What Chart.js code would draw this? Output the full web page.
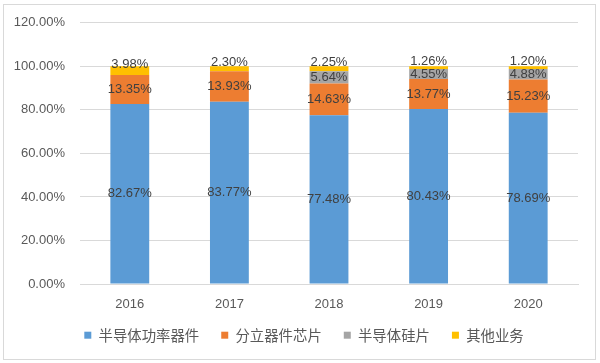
<!DOCTYPE html>
<html>
<head>
<meta charset="utf-8">
<script src="https://cdn.jsdelivr.net/npm/chart.js@4"></script>
<style>
  html, body { margin: 0; padding: 0; background: #fff; }
  #wrap { width: 600px; height: 363px; position: relative; }
</style>
</head>
<body>
<div id="wrap"><canvas id="chart" width="600" height="363"></canvas></div>
<script>
const years = ["2016", "2017", "2018", "2019", "2020"];
const seriesNames = ["半导体功率器件", "分立器件芯片", "半导体硅片", "其他业务"];
const powerDevices = [82.67, 83.77, 77.48, 80.43, 78.69];
const discreteChips = [13.35, 13.93, 14.63, 13.77, 15.23];
const siliconWafers = [null, null, 5.64, 4.55, 4.88];
const otherBusiness = [3.98, 2.30, 2.25, 1.26, 1.20];
const yTicks = [0, 20, 40, 60, 80, 100, 120];

const colors = ["#5B9BD5", "#ED7D31", "#A5A5A5", "#FFC000"];
const labelShift = [0, 0, 0, -6];  // yellow labels sit above the thin segment

const CJK = "'Noto Sans CJK SC', 'Noto Sans', sans-serif";
const LATIN = "'Liberation Sans', Arial, sans-serif";

// draws value labels in the middle of each stacked segment
const segmentLabels = {
  id: "segmentLabels",
  afterDatasetsDraw(chart) {
    const ctx = chart.ctx;
    ctx.save();
    ctx.font = "13px " + LATIN;
    ctx.fillStyle = "#404040";
    ctx.textAlign = "center";
    ctx.textBaseline = "middle";
    chart.data.datasets.forEach((ds, i) => {
      chart.getDatasetMeta(i).data.forEach((bar, j) => {
        const v = ds.data[j];
        if (v == null) return;
        const mid = (bar.y + bar.base) / 2 + labelShift[i];
        ctx.fillText(v.toFixed(2) + "%", bar.x, mid);
      });
    });
    ctx.restore();
  },
};

// light frame round the whole chart
const frame = {
  id: "frame",
  beforeDraw(chart) {
    const ctx = chart.ctx;
    ctx.save();
    ctx.strokeStyle = "#D9D9D9";
    ctx.lineWidth = 1;
    ctx.strokeRect(3.5, 4.5, 592, 355);
    ctx.restore();
  },
};

// legend: wide item spacing but a short box, placed like the original
const legendFix = {
  id: "legendFix",
  beforeLayout(chart) {
    const lg = chart.legend;
    if (!lg || lg._fitWrapped) return;
    const fit = lg.fit;
    lg.fit = function () {
      fit.call(this);
      this.height = 44;
    };
    lg._fitWrapped = true;
  },
  afterLayout(chart) {
    const lg = chart.legend;
    if (!lg) return;
    lg.left += 15;
    lg.right += 15;
    lg.top -= 13;
    lg.bottom -= 13;
  },
};

const datasets = [powerDevices, discreteChips, siliconWafers, otherBusiness].map((d, i) => ({
  label: seriesNames[i],
  data: d,
  backgroundColor: colors[i],
  borderWidth: 0,
  categoryPercentage: 1,
  barPercentage: 0.39,
}));

new Chart(document.getElementById("chart"), {
  type: "bar",
  data: { labels: years, datasets },
  plugins: [frame, segmentLabels, legendFix],
  options: {
    animation: false,
    responsive: false,
    layout: { padding: { left: 0, right: 22, top: 16, bottom: 0 } },
    scales: {
      x: {
        stacked: true,
        grid: { display: false },
        border: { color: "#D9D9D9" },
        ticks: { color: "#595959", font: { family: LATIN, size: 13 }, padding: 5 },
        afterFit: (s) => { s.height = 35; },
      },
      y: {
        stacked: true,
        min: 0,
        max: 120,
        afterBuildTicks: (s) => { s.ticks = yTicks.map((v) => ({ value: v })); },
        grid: { color: "#D9D9D9", drawTicks: false },
        border: { display: false },
        ticks: {
          color: "#595959",
          font: { family: LATIN, size: 13 },
          padding: 15,
          callback: (v) => v.toFixed(2) + "%",
        },
        afterFit: (s) => { s.width = 80; },
      },
    },
    plugins: {
      legend: {
        position: "bottom",
        labels: {
          boxWidth: 7,
          boxHeight: 7,
          padding: 22,
          color: "#595959",
          font: { family: CJK, size: 14.4 },
        },
      },
      tooltip: { enabled: false },
    },
  },
});
</script>
</body>
</html>
